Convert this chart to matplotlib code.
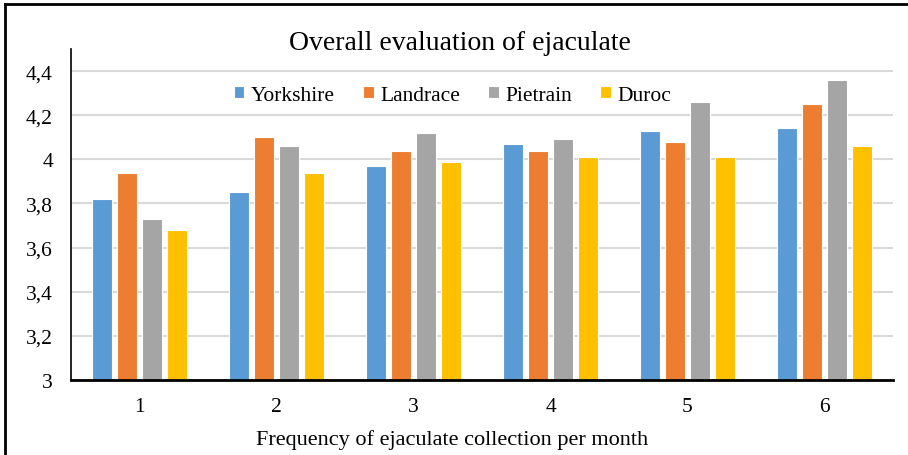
import matplotlib.pyplot as plt
import numpy as np
from matplotlib.lines import Line2D

plt.rcParams['font.family'] = ['Liberation Serif', 'DejaVu Serif']

# Data
frequency = [1, 2, 3, 4, 5, 6]
yorkshire = [3.82, 3.85, 3.97, 4.07, 4.13, 4.14]
landrace = [3.94, 4.10, 4.04, 4.04, 4.08, 4.25]
pietrain = [3.73, 4.06, 4.12, 4.09, 4.26, 4.36]
duroc = [3.68, 3.94, 3.99, 4.01, 4.01, 4.06]
breeds = ['Yorkshire', 'Landrace', 'Pietrain', 'Duroc']
colors = ['#5B9BD5', '#ED7D31', '#A5A5A5', '#FFC000']
yticks = [3.0, 3.2, 3.4, 3.6, 3.8, 4.0, 4.2, 4.4]
ytick_labels = ['3', '3,2', '3,4', '3,6', '3,8', '4', '4,2', '4,4']

fig = plt.figure(figsize=(9.08, 4.56), dpi=100)
ax = fig.add_axes([71 / 908, 1 - 381 / 456, 822 / 908, 331 / 456])

x = np.array(frequency)
offsets = [-0.274, -0.091, 0.091, 0.274]
series = [yorkshire, landrace, pietrain, duroc]
for vals, off, col, name in zip(series, offsets, colors, breeds):
    ax.bar(x + off, np.array(vals) - 3, bottom=3, width=0.15, color=col,
           edgecolor='white', linewidth=0.8, label=name, zorder=3)

ax.set_xlim(0.5, 6.5)
ax.set_ylim(3, 4.5)
ax.set_yticks(yticks)
ax.set_yticklabels(ytick_labels)
ax.set_xticks(frequency)
ax.tick_params(axis='both', length=0, labelsize=15.5)
ax.tick_params(axis='x', pad=12)
ax.tick_params(axis='y', pad=13)
ax.grid(axis='y', color='#D9D9D9', linewidth=1.5, zorder=0)

for s in ['top', 'right']:
    ax.spines[s].set_visible(False)
ax.spines['left'].set_linewidth(1.2)
ax.spines['bottom'].set_linewidth(2)
for s in ['left', 'bottom']:
    ax.spines[s].set_zorder(5)

ax.set_xlabel('Frequency of ejaculate collection per month', fontsize=16, labelpad=11)
ax.xaxis.set_label_coords(452 / 908, -0.0, transform=fig.transFigure)
ax.xaxis.label.set_verticalalignment('center')
ax.xaxis.label.set_y(1 - 440 / 456)
fig.text(460 / 908, 1 - 44 / 456, 'Overall evaluation of ejaculate',
         ha='center', va='center', fontsize=20)

ax.legend(loc='center', bbox_to_anchor=(0.464, 0.861), ncol=4, frameon=False,
          fontsize=15.5, handlelength=0.5, handleheight=0.5, handletextpad=0.3,
          columnspacing=1.3)

# outer frame (top and left edges visible in the reference)
fig.add_artist(Line2D([5 / 908, 1], [1 - 5 / 456, 1 - 5 / 456], color='black',
                      linewidth=2, transform=fig.transFigure))
fig.add_artist(Line2D([5 / 908, 5 / 908], [0, 1 - 5 / 456], color='black',
                      linewidth=2, transform=fig.transFigure))

fig.savefig('out.png', dpi=100)
